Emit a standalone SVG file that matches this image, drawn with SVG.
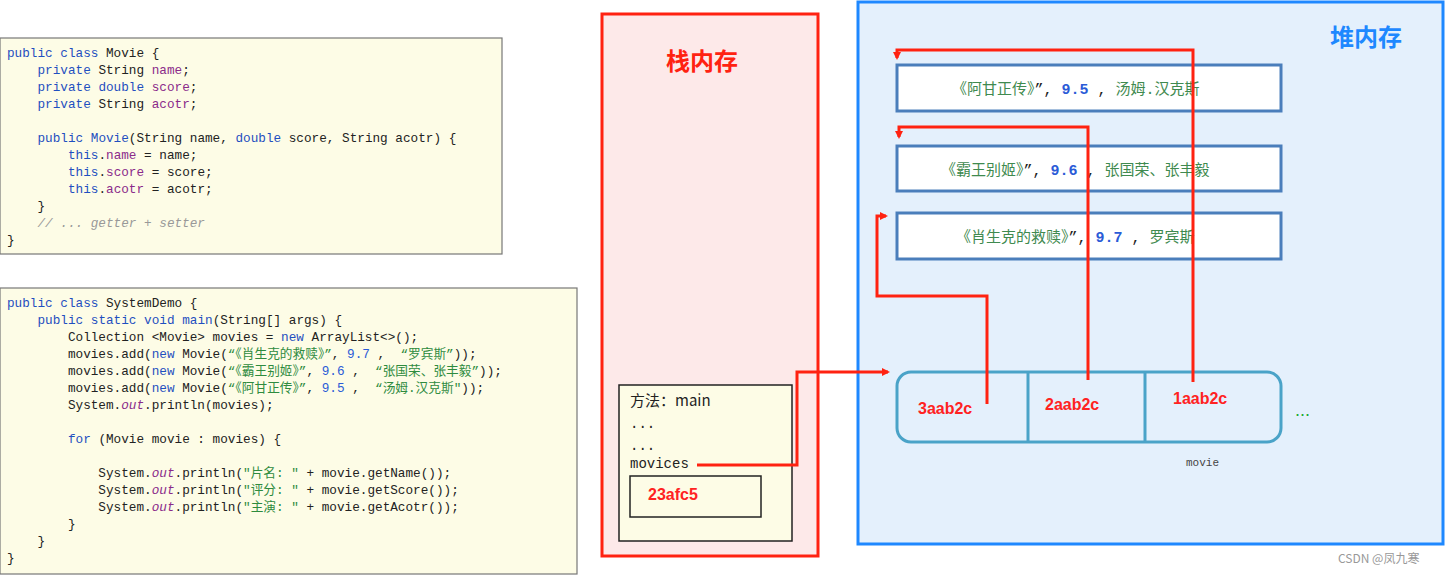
<svg xmlns="http://www.w3.org/2000/svg" width="1451" height="576" viewBox="0 0 1451 576">
<style>
.code{font-family:"Liberation Mono","Noto Sans CJK SC",monospace;font-size:12.7px;fill:#222;white-space:pre}
.k{fill:#1f4fc0}.f{fill:#8a2a8a}.s{fill:#2e8b3e}.n{fill:#2a5bd7}.c{fill:#999;font-style:italic}.i{fill:#8a2a8a;font-style:italic}
.cbox{fill:#fdfce6;stroke:#777;stroke-width:1.2}
.hbox{fill:#fff;stroke:#4a7ebb;stroke-width:3}
.ht{font-family:"Liberation Mono","Noto Sans CJK SC",monospace;font-size:15px;fill:#3f8a4f}
.red{font-family:"Liberation Sans","Noto Sans CJK SC",sans-serif;font-weight:bold;fill:#f22;font-size:16px}
.ln{fill:none;stroke:#f21;stroke-width:3}
</style>
<defs><marker id="a" markerWidth="8" markerHeight="8" refX="6" refY="4" orient="auto" markerUnits="userSpaceOnUse"><path d="M0,0L8,4L0,8z" fill="#f21"/></marker></defs>
<rect width="1451" height="576" fill="#fff"/>
<g id="code1">
<rect class="cbox" x="0" y="38" width="502" height="216"/>
<text class="code" x="7" y="57"><tspan class="k">public class</tspan> Movie {</text>
<text class="code" x="7" y="74">    <tspan class="k">private</tspan> String <tspan class="f">name</tspan>;</text>
<text class="code" x="7" y="91">    <tspan class="k">private double</tspan> <tspan class="f">score</tspan>;</text>
<text class="code" x="7" y="108">    <tspan class="k">private</tspan> String <tspan class="f">acotr</tspan>;</text>
<text class="code" x="7" y="142">    <tspan class="k">public</tspan> <tspan class="k">Movie</tspan>(String name, <tspan class="k">double</tspan> score, String acotr) {</text>
<text class="code" x="7" y="159">        <tspan class="k">this</tspan>.<tspan class="f">name</tspan> = name;</text>
<text class="code" x="7" y="176">        <tspan class="k">this</tspan>.<tspan class="f">score</tspan> = score;</text>
<text class="code" x="7" y="193">        <tspan class="k">this</tspan>.<tspan class="f">acotr</tspan> = acotr;</text>
<text class="code" x="7" y="210">    }</text>
<text class="code c" x="7" y="227">    // ... getter + setter</text>
<text class="code" x="7" y="244">}</text>
</g>
<g id="code2">
<rect class="cbox" x="0" y="288" width="577" height="286"/>
<text class="code" x="7" y="307"><tspan class="k">public class</tspan> SystemDemo {</text>
<text class="code" x="7" y="324">    <tspan class="k">public static void</tspan> <tspan class="k">main</tspan>(String[] args) {</text>
<text class="code" x="7" y="341">        Collection &lt;Movie&gt; movies = <tspan class="k">new</tspan> ArrayList&lt;&gt;();</text>
<text class="code" x="7" y="358">        movies.add(<tspan class="k">new</tspan> Movie(<tspan class="s">“《肖生克的救赎》”</tspan>, <tspan class="n">9.7</tspan> ,  <tspan class="s">“罗宾斯”</tspan>));</text>
<text class="code" x="7" y="375">        movies.add(<tspan class="k">new</tspan> Movie(<tspan class="s">“《霸王别姬》”</tspan>, <tspan class="n">9.6</tspan> ,  <tspan class="s">“张国荣、张丰毅”</tspan>));</text>
<text class="code" x="7" y="392">        movies.add(<tspan class="k">new</tspan> Movie(<tspan class="s">“《阿甘正传》”</tspan>, <tspan class="n">9.5</tspan> ,  <tspan class="s">“汤姆.汉克斯"</tspan>));</text>
<text class="code" x="7" y="409">        System.<tspan class="i">out</tspan>.println(movies);</text>
<text class="code" x="7" y="443">        <tspan class="k">for</tspan> (Movie movie : movies) {</text>
<text class="code" x="7" y="477">            System.<tspan class="i">out</tspan>.println(<tspan class="s">"片名: "</tspan> + movie.getName());</text>
<text class="code" x="7" y="494">            System.<tspan class="i">out</tspan>.println(<tspan class="s">"评分: "</tspan> + movie.getScore());</text>
<text class="code" x="7" y="511">            System.<tspan class="i">out</tspan>.println(<tspan class="s">"主演: "</tspan> + movie.getAcotr());</text>
<text class="code" x="7" y="528">        }</text>
<text class="code" x="7" y="545">    }</text>
<text class="code" x="7" y="562">}</text>
</g>
<g id="stack">
<rect x="602" y="14" width="216" height="542" fill="#fde9e9" stroke="#f21" stroke-width="3"/>
<text x="702" y="70" text-anchor="middle" font-family="Noto Sans CJK SC,sans-serif" font-weight="bold" font-size="24" fill="#f21">栈内存</text>
</g>
<g id="frame">
<rect x="619" y="385" width="173" height="156" fill="#fdfce6" stroke="#222" stroke-width="1.5"/>
<text x="630" y="406" font-family="Noto Sans CJK SC,sans-serif" font-size="15" fill="#222">方法：main</text>
<text class="code" x="630" y="428" style="font-size:14px">...</text>
<text class="code" x="630" y="450" style="font-size:14px">...</text>
<text class="code" x="630" y="468" style="font-size:14px">movices</text>
<rect x="630" y="476" width="131" height="41" fill="none" stroke="#222" stroke-width="1.5"/>
<text class="red" x="648" y="500">23afc5</text>
</g>
<g id="heap">
<rect x="858" y="2" width="585" height="542" fill="#e4f0fc" stroke="#1e88ff" stroke-width="3"/>
<text x="1366" y="46" text-anchor="middle" font-family="Noto Sans CJK SC,sans-serif" font-weight="bold" font-size="24" fill="#1e88ff">堆内存</text>
</g>
<g id="m1"><rect class="hbox" x="897" y="65" width="384" height="46"/><text class="ht" x="952" y="94">《阿甘正传》<tspan fill="#222">”,</tspan> <tspan class="n" font-weight="bold">9.5</tspan> <tspan fill="#222">,</tspan> 汤姆.汉克斯</text></g>
<g id="m2"><rect class="hbox" x="897" y="146" width="384" height="45"/><text class="ht" x="941" y="175">《霸王别姬》<tspan fill="#222">”,</tspan> <tspan class="n" font-weight="bold">9.6</tspan> <tspan fill="#222">,</tspan> 张国荣、张丰毅</text></g>
<g id="m3"><rect class="hbox" x="897" y="213" width="384" height="46"/><text class="ht" x="956" y="242">《肖生克的救赎》<tspan fill="#222">”,</tspan> <tspan class="n" font-weight="bold">9.7</tspan> <tspan fill="#222">,</tspan> 罗宾斯</text></g>
<g id="list">
<rect x="897" y="372" width="384" height="70" rx="14" fill="#e4f0fc" stroke="#4aa3c8" stroke-width="3"/>
<line x1="1028" y1="372" x2="1028" y2="442" stroke="#4aa3c8" stroke-width="3"/>
<line x1="1145" y1="372" x2="1145" y2="442" stroke="#4aa3c8" stroke-width="3"/>
<text class="red" x="918" y="414">3aab2c</text>
<text class="red" x="1045" y="410">2aab2c</text>
<text class="red" x="1173" y="404">1aab2c</text>
<text x="1295" y="416" font-family="Liberation Sans,sans-serif" font-size="18" fill="#2a3">...</text>
<text x="1186" y="466" font-family="Liberation Mono,monospace" font-size="11" fill="#444">movie</text>
</g>
<g id="connectors">
<path class="ln" d="M697,465H797V372H888" marker-end="url(#a)"/>
<path class="ln" d="M987,404V296H877V216H886" marker-end="url(#a)"/>
<path class="ln" d="M1088,380V127H899V137" marker-end="url(#a)"/>
<path class="ln" d="M1193,382V50H897V58" marker-end="url(#a)"/>
</g>
<text x="1338" y="563" font-family="Noto Sans CJK SC,sans-serif" font-size="12" fill="#999">CSDN @凤九寒</text>
</svg>
